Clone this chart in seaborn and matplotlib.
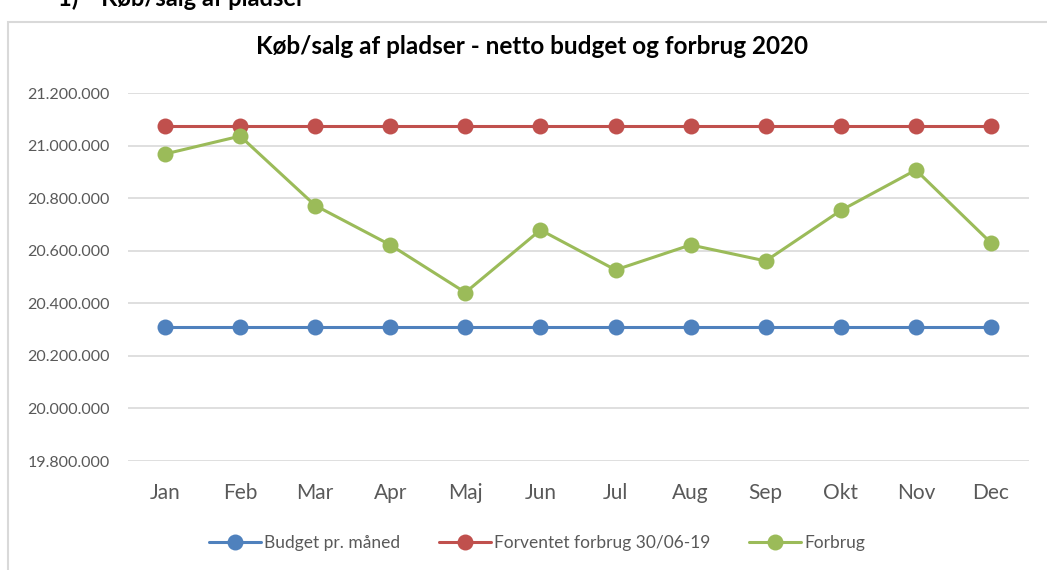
import pandas as pd
import matplotlib.pyplot as plt
from matplotlib.patches import Rectangle
from matplotlib.ticker import FuncFormatter
import seaborn as sns

months = ["Jan", "Feb", "Mar", "Apr", "Maj", "Jun", "Jul", "Aug", "Sep", "Okt", "Nov", "Dec"]
budget = [20310000] * 12
forventet = [21075000] * 12
forbrug = [20968000, 21036000, 20772000, 20622000, 20441000, 20679000,
           20527000, 20622000, 20561000, 20753000, 20907000, 20630000]
series_names = ["Budget pr. måned", "Forventet forbrug 30/06-19", "Forbrug"]
colors = ["#4F81BD", "#C0504D", "#9BBB59"]
yticks = [19800000, 20000000, 20200000, 20400000, 20600000, 20800000, 21000000, 21200000]

# Data i langt format til seaborn
frames = []
for name, vals in zip(series_names, [budget, forventet, forbrug]):
    frames.append(pd.DataFrame({"Måned": range(len(months)), "Beløb": vals, "Serie": name}))
data = pd.concat(frames, ignore_index=True)

sns.set_style("white")
plt.rcParams["font.family"] = ["Lato", "DejaVu Sans"]

fig = plt.figure(figsize=(10.47, 5.70), dpi=100)
W, H = 1047, 570
ax = fig.add_axes([127.5 / W, 1 - 461 / H, (1028.5 - 127.5) / W, (461 - 93) / H])

sns.lineplot(data=data, x="Måned", y="Beløb", hue="Serie", palette=colors,
             marker="o", markersize=11.5, markeredgewidth=0, linewidth=2.2, ax=ax)

ax.set_xlim(-0.5, len(months) - 0.5)
ax.set_ylim(yticks[0], yticks[-1])
ax.set_yticks(yticks)
ax.yaxis.set_major_formatter(FuncFormatter(lambda v, p: f"{int(v):,}".replace(",", ".")))
ax.set_xticks(range(len(months)))
ax.set_xticklabels(months)
ax.tick_params(axis="x", labelsize=15, colors="#595959", length=0, pad=16)
ax.tick_params(axis="y", labelsize=11.5, colors="#595959", length=0, pad=13)
ax.yaxis.grid(True, color="#d9d9d9", linewidth=1.2)
ax.set_axisbelow(True)
for s in ax.spines.values():
    s.set_visible(False)
ax.set_xlabel("")
ax.set_ylabel("")

# Legende under grafen
handles, labels = ax.get_legend_handles_labels()
ax.legend_.remove()
fig.legend(handles, labels, loc="center", bbox_to_anchor=(537 / W, 1 - 543 / H), ncol=3,
           frameon=False, fontsize=12.5, handlelength=3.0, columnspacing=2.2,
           handletextpad=0.2, labelcolor="#595959")

# Titel og ramme
fig.text(532 / W, 1 - 46 / H, "Køb/salg af pladser - netto budget og forbrug 2020",
         ha="center", va="center", fontsize=17.5, fontweight="bold", color="black")
fig.patches.append(Rectangle((8 / W, -0.05), 1.1, 1 - 22 / H + 0.05, transform=fig.transFigure,
                             fill=False, edgecolor="#d9d9d9", linewidth=1.5))
fig.text(58 / W, 1 + 2 / H, "1)    Køb/salg af pladser", ha="left", va="center",
         fontsize=17, fontweight="bold", color="black")

fig.savefig("out.png", dpi=100)
